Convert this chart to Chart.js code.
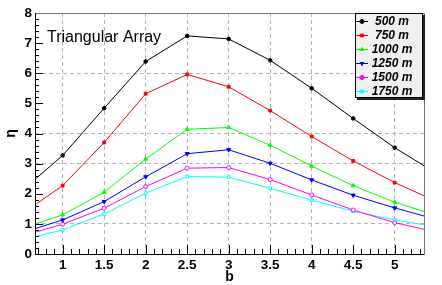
<!DOCTYPE html>
<html>
<head>
<meta charset="utf-8">
<script src="https://cdn.jsdelivr.net/npm/chart.js@4/dist/chart.umd.min.js"></script>
<style>
  html, body { margin: 0; padding: 0; background: #fff; }
  #wrap { width: 442px; height: 285px; }
</style>
</head>
<body>
<div id="wrap"><canvas id="etaChart"></canvas></div>
<script>
// values (x = b, y = eta); end points lie outside the frame
const bValues = [0.5, 1, 1.5, 2, 2.5, 3, 3.5, 4, 4.5, 5, 5.5];
const eta500  = [2.08, 3.27, 4.84, 6.39, 7.24, 7.14, 6.43, 5.50, 4.50, 3.53, 2.68];
const eta750  = [1.31, 2.27, 3.70, 5.32, 5.96, 5.55, 4.76, 3.90, 3.09, 2.37, 1.75];
const eta1000 = [0.84, 1.30, 2.05, 3.15, 4.14, 4.20, 3.61, 2.92, 2.27, 1.72, 1.28];
const eta1250 = [0.70, 1.13, 1.74, 2.56, 3.33, 3.46, 3.01, 2.46, 1.95, 1.53, 1.15];
const eta1500 = [0.59, 0.99, 1.52, 2.24, 2.85, 2.87, 2.47, 1.96, 1.46, 1.04, 0.73];
const eta1750 = [0.46, 0.80, 1.33, 2.02, 2.57, 2.55, 2.18, 1.79, 1.42, 1.13, 0.90];
const seriesLabels = ['500 m', '750 m', '1000 m', '1250 m', '1500 m', '1750 m'];

const xTicks = [1, 1.5, 2, 2.5, 3, 3.5, 4, 4.5, 5];
const yTicks = [0, 1, 2, 3, 4, 5, 6, 7, 8];
// grid lines that actually show up in the reference
const xGridShown = [1, 1.5, 2, 2.5, 3, 3.5, 4, 5];
const yGridShown = [1, 3, 4, 6];

const X_MIN = 0.667, X_MAX = 5.353;

function pts(ys) {
  return ys.map((y, i) => ({ x: bValues[i], y: y }));
}

function makeSet(label, ys, color, style, opts) {
  return Object.assign({
    label: label,
    data: pts(ys),
    borderColor: color,
    backgroundColor: color,
    borderWidth: 1,
    pointStyle: style,
    pointRadius: 2,
    pointBorderWidth: 1,
    pointBorderColor: color,
    pointBackgroundColor: color,
    tension: 0
  }, opts || {});
}

const datasets = [
  makeSet(seriesLabels[0], eta500, '#000000', 'circle', { pointRadius: 1.8 }),
  makeSet(seriesLabels[1], eta750, '#ff0000', 'rect'),
  makeSet(seriesLabels[2], eta1000, '#00ff00', 'triangle', { pointRadius: 2.3 }),
  makeSet(seriesLabels[3], eta1250, '#0000ff', 'triangle', { pointRadius: 2.3, pointRotation: 180 }),
  makeSet(seriesLabels[4], eta1500, '#ff00ff', 'circle', { pointBackgroundColor: '#ffffff' }),
  makeSet(seriesLabels[5], eta1750, '#00ffff', 'rect', { pointBackgroundColor: '#ffffff' })
];

// frame, inner tick marks, text label and boxed legend (ROOT look)
const rootStyle = {
  id: 'rootStyle',
  afterDatasetsDraw(chart) {
    const ctx = chart.ctx;
    const a = chart.chartArea;
    const xs = chart.scales.x, ys = chart.scales.y;
    ctx.save();

    // tick marks inside the frame
    ctx.strokeStyle = '#000';
    ctx.lineWidth = 1;
    ctx.beginPath();
    for (let v = 7; v <= 53; v++) {
      const val = v / 10;
      const px = Math.round(xs.getPixelForValue(val)) + 0.5;
      const len = (v % 5 === 0) ? 9 : 5;
      ctx.moveTo(px, a.bottom);
      ctx.lineTo(px, a.bottom - len);
    }
    for (let v = 0; v <= 40; v++) {
      const val = v / 5;
      const py = Math.round(ys.getPixelForValue(val)) + 0.5;
      const len = (v % 5 === 0) ? 8 : 4;
      ctx.moveTo(a.left, py);
      ctx.lineTo(a.left + len, py);
    }
    ctx.stroke();

    // frame
    ctx.strokeStyle = '#777';
    ctx.beginPath();
    ctx.moveTo(a.left, a.top + 0.5);
    ctx.lineTo(a.right + 0.5, a.top + 0.5);
    ctx.lineTo(a.right + 0.5, a.bottom);
    ctx.stroke();
    ctx.strokeStyle = '#000';
    ctx.beginPath();
    ctx.moveTo(a.left + 0.5, a.top);
    ctx.lineTo(a.left + 0.5, a.bottom + 0.5);
    ctx.lineTo(a.right + 0.5, a.bottom + 0.5);
    ctx.stroke();

    // label
    ctx.fillStyle = '#000';
    ctx.font = '16px "Liberation Sans", Arial, sans-serif';
    ctx.textBaseline = 'alphabetic';
    ctx.textAlign = 'left';
    ctx.fillText('Triangular Array', 47, 42);

    // legend box with shadow
    const bx = 355, by = 13, bw = 67, bh = 84;
    ctx.fillStyle = '#222';
    ctx.fillRect(bx + 2, by + 2, bw + 1, bh + 1);
    ctx.fillStyle = '#f0f0f0';
    ctx.fillRect(bx, by, bw, bh);
    ctx.strokeStyle = '#000';
    ctx.strokeRect(bx + 0.5, by + 0.5, bw, bh);

    ctx.font = 'italic bold 12px "Liberation Sans", Arial, sans-serif';
    ctx.textAlign = 'center';
    ctx.textBaseline = 'middle';
    chart.data.datasets.forEach((ds, i) => {
      const ry = by + 8.5 + i * 14;
      ctx.strokeStyle = ds.borderColor;
      ctx.lineWidth = 1;
      ctx.beginPath();
      ctx.moveTo(bx + 1, ry);
      ctx.lineTo(bx + 13, ry);
      ctx.stroke();
      ctx.fillStyle = ds.borderColor;
      Chart.helpers.drawPoint(ctx, {
        pointStyle: ds.pointStyle,
        rotation: ds.pointRotation || 0,
        radius: 2,
        borderWidth: 1
      }, bx + 7, ry);
      ctx.fillStyle = '#000';
      ctx.fillText(ds.label, 392, ry + 0.5);
    });
    ctx.restore();
  }
};

const gridColor = (shown) => (c) => (c.tick && shown.includes(c.tick.value)) ? '#b4b4b4' : 'rgba(0,0,0,0)';
const tickFont = { family: '"Liberation Sans", Arial, sans-serif', size: 13.5, weight: 'bold' };
const titleFont = { family: '"Liberation Sans", Arial, sans-serif', size: 14, weight: 'bold', lineHeight: 1 };

new Chart(document.getElementById('etaChart'), {
  type: 'line',
  data: { datasets: datasets },
  options: {
    animation: false,
    responsive: true,
    maintainAspectRatio: false,
    layout: { padding: { left: 0, top: 13, right: 18, bottom: 0 } },
    plugins: { legend: { display: false }, tooltip: { enabled: false } },
    scales: {
      x: {
        type: 'linear',
        min: X_MIN,
        max: X_MAX,
        afterBuildTicks: (s) => { s.ticks = xTicks.map(v => ({ value: v })); },
        afterFit: (s) => { s.height = 31; },
        ticks: { color: '#000', font: tickFont, padding: 3, maxRotation: 0, autoSkip: false,
                 callback: (v) => String(v) },
        grid: { color: gridColor(xGridShown), drawTicks: false, lineWidth: 1 },
        border: { display: false, dash: [4, 3] },
        title: { display: true, text: 'b', color: '#000', font: titleFont, padding: { top: 0, bottom: 1 } }
      },
      y: {
        type: 'linear',
        min: 0,
        max: 8,
        afterBuildTicks: (s) => { s.ticks = yTicks.map(v => ({ value: v })); },
        afterFit: (s) => { s.width = 35; },
        ticks: { color: '#000', font: tickFont, padding: 3, autoSkip: false,
                 callback: (v) => String(v) },
        grid: { color: gridColor(yGridShown), drawTicks: false, lineWidth: 1 },
        border: { display: false, dash: [4, 3] },
        title: { display: true, text: 'η', color: '#000', font: titleFont, padding: { top: 4, bottom: 0 } }
      }
    }
  },
  plugins: [rootStyle]
});
</script>
</body>
</html>
